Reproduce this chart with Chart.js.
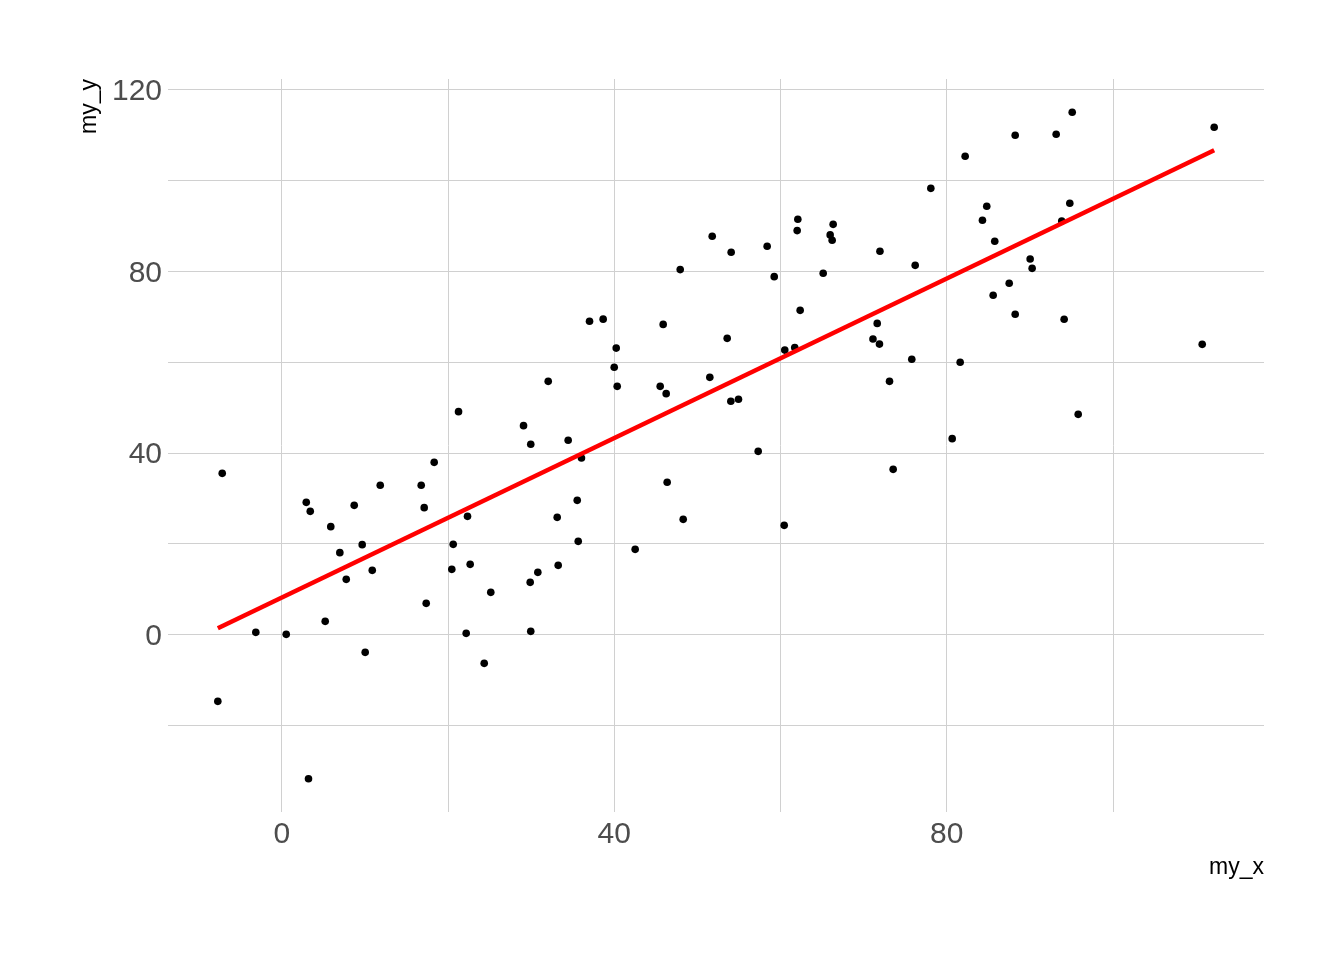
<!DOCTYPE html>
<html>
<head>
<meta charset="utf-8">
<script src="https://cdn.jsdelivr.net/npm/chart.js@4"></script>
<style>
  html, body { margin: 0; padding: 0; background: #ffffff; }
  #plot { display: block; }
</style>
</head>
<body>
<canvas id="plot" width="1344" height="960" style="width:1344px;height:960px"></canvas>
<script>
// values
const myX = [-7.70, -7.17, -3.13, 0.53, 2.94, 3.42, 3.21, 5.22, 5.89, 6.98,
  7.75, 8.71, 9.67, 10.03, 10.88, 11.84, 16.77, 17.13, 17.37, 18.33,
  20.62, 20.45, 21.26, 22.18, 22.34, 22.66, 24.35, 25.14, 29.08, 29.95,
  29.88, 29.95, 30.80, 32.05, 33.13, 33.25, 34.45, 35.54, 35.66, 36.05,
  37.02, 38.66, 39.99, 40.23, 40.35, 42.51, 45.52, 45.88, 46.24, 46.36,
  47.93, 48.29, 51.49, 51.78, 53.58, 54.06, 54.02, 54.94, 57.31, 58.39,
  59.24, 60.44, 60.51, 61.71, 62.00, 62.08, 62.36, 65.13, 65.97, 66.21,
  66.33, 71.12, 71.63, 71.90, 71.96, 73.11, 73.55, 75.79, 76.20, 78.08,
  80.65, 81.61, 82.21, 84.29, 84.81, 85.58, 85.77, 87.51, 88.23, 88.23,
  90.03, 90.27, 93.16, 93.83, 94.12, 94.80, 95.09, 95.81, 110.73, 112.17];
const myY = [-14.69, 35.53, 0.51, 0.07, 29.14, 27.16, -31.72, 2.93, 23.79, 18.06,
  12.18, 28.48, 19.82, -3.90, 14.16, 32.89, 32.89, 27.97, 6.89, 37.95,
  19.89, 14.38, 49.12, 0.29, 26.06, 15.48, -6.32, 9.32, 46.03, 41.92,
  11.52, 0.73, 13.72, 55.79, 25.84, 15.26, 42.80, 29.58, 20.55, 38.92,
  69.01, 69.49, 58.88, 63.11, 54.69, 18.79, 54.69, 68.33, 53.08, 33.55,
  80.40, 25.40, 56.67, 87.73, 65.26, 84.21, 51.39, 51.83, 40.37, 85.53,
  78.85, 24.07, 62.67, 63.22, 88.99, 91.48, 71.43, 79.58, 88.04, 86.85,
  90.37, 65.13, 68.55, 63.99, 84.43, 55.79, 36.41, 60.64, 81.34, 98.30,
  43.17, 59.98, 105.35, 91.26, 94.34, 74.74, 86.63, 77.38, 109.98, 70.55,
  82.75, 80.68, 110.20, 91.12, 69.45, 95.00, 115.04, 48.52, 63.94, 111.74];
const xTitle = 'my_x';
const yTitle = 'my_y';
const labelEvery = 40;   // labelled breaks; grid every 20
const gridStep = 20;

const points = myX.map((x, i) => ({ x: x, y: myY[i] }));

// lm fit, like geom_smooth(method = "lm", se = FALSE)
const n = myX.length;
const mx = myX.reduce((a, b) => a + b, 0) / n;
const my = myY.reduce((a, b) => a + b, 0) / n;
let sxy = 0, sxx = 0;
for (let i = 0; i < n; i++) { sxy += (myX[i] - mx) * (myY[i] - my); sxx += (myX[i] - mx) ** 2; }
const slope = sxy / sxx, icpt = my - slope * mx;
const xLo = Math.min(...myX), xHi = Math.max(...myX);
const fitLine = [{ x: xLo, y: icpt + slope * xLo }, { x: xHi, y: icpt + slope * xHi }];

// ggplot default 5% expansion
const expand = (arr) => { const lo = Math.min(...arr), hi = Math.max(...arr), d = (hi - lo) * 0.05; return [lo - d, hi + d]; };
const [xMin, xMax] = expand(myX);
const [yMin, yMax] = expand(myY);

const tickFont = { family: '"Liberation Sans", Arial, sans-serif', size: 30 };
const titleFont = { family: '"Liberation Sans", Arial, sans-serif', size: 23 };
const gridCol = '#d0d0d0';
const lbl = (v) => (Math.round(v) % labelEvery === 0 ? String(Math.round(v)) : '');

new Chart(document.getElementById('plot').getContext('2d'), {
    type: 'scatter',
    data: {
        datasets: [
            { type: 'line', data: fitLine, borderColor: '#ff0000', borderWidth: 4.5, pointRadius: 0, fill: false, order: 0 },
            { data: points, backgroundColor: '#000000', borderWidth: 0, pointRadius: 3.8, pointHoverRadius: 3.8, order: 1 }
        ]
    },
    options: {
        responsive: false, animation: false, devicePixelRatio: 1,
        layout: { padding: { top: 79, right: 80, left: 0, bottom: 0 } },
        plugins: { legend: { display: false }, tooltip: { enabled: false } },
        scales: {
            x: {
                type: 'linear', min: xMin, max: xMax,
                afterFit: (s) => { s.height = 148; },
                border: { display: false },
                grid: { color: gridCol, lineWidth: 1, drawTicks: false },
                ticks: { stepSize: gridStep, includeBounds: false, autoSkip: false, maxRotation: 0, padding: 5, color: '#4d4d4d', font: tickFont, callback: lbl },
                title: { display: true, text: xTitle, align: 'end', color: '#000000', font: titleFont, padding: { top: 0, bottom: 79 } }
            },
            y: {
                type: 'linear', min: yMin, max: yMax,
                afterFit: (s) => { s.width = 168; },
                border: { display: false },
                grid: { color: gridCol, lineWidth: 1, drawTicks: false },
                ticks: { stepSize: gridStep, includeBounds: false, autoSkip: false, padding: 6, labelOffset: 2, color: '#4d4d4d', font: tickFont, callback: lbl },
                title: { display: true, text: yTitle, align: 'end', color: '#000000', font: titleFont, padding: { top: 76, bottom: 0 } }
            }
        }
    }
});
</script>
</body>
</html>
